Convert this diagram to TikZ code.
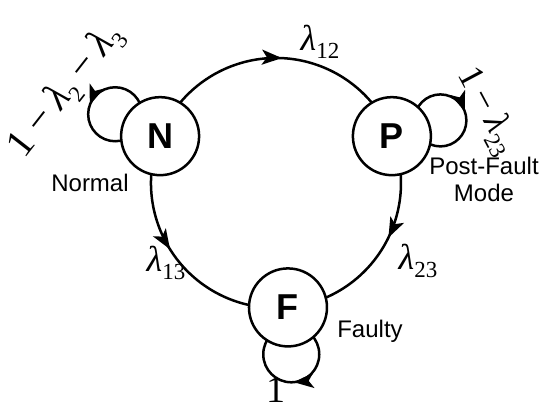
\documentclass[tikz,border=0pt]{standalone}
\usepackage{fontspec}
\setmainfont{Liberation Serif}
\setsansfont{Liberation Sans}
\usetikzlibrary{arrows.meta,decorations.markings,backgrounds}
\newcommand\gl{{\itshape λ}}
\newcommand\lsub[1]{\raisebox{-0.22em}{\fontsize{23}{23}\selectfont #1}}
\newcommand\mn{\hspace{0.22em}−\hspace{0.22em}}
\begin{document}
\begin{tikzpicture}[x=1pt,y=1pt,
  wire/.style={line width=2.5pt},
  state/.style={circle,draw,line width=2.5pt,fill=white,minimum size=78pt,inner sep=0pt,
    font=\sffamily\bfseries\fontsize{36}{36}\selectfont},
  lbl/.style={font=\sffamily\fontsize{24}{27}\selectfont,align=center,inner sep=0pt},
  gr/.style={font=\fontsize{36}{36}\selectfont,inner sep=0pt},
  marrow/.style={postaction=decorate,decoration={markings,
    mark=at position #1 with {\arrow{Stealth[length=20pt,width=15pt,inset=5pt]}}}}]
\useasboundingbox (0,0) rectangle (539,409);
\coordinate (O) at (276,226);
\path (O) ++(158:125) node[state] (N) {N};
\path (O) ++(22:125) node[state] (P) {P};
\path (O) ++(-84.5:125) node[state] (F) {F};
\begin{scope}[on background layer,wire]
  \draw[wire,marrow=0.52] (N.center) arc[start angle=158,end angle=22,radius=125];
  \draw[wire,marrow=0.45] (P.center) arc[start angle=22,end angle=-84.5,radius=125];
  \draw[wire,marrow=0.46] (N.center) arc[start angle=158,end angle=275.5,radius=125];
  \draw[wire,marrow=0.444] ([shift={(154:50)}]N.center) ++(0:27) arc[start angle=0,end angle=360,radius=27];
  \draw[wire,marrow=0.944] ([shift={(18:51)}]P.center) ++(0:26) arc[start angle=0,end angle=-360,radius=26];
  \draw[wire,marrow=0.236] ([shift={(-86:47)}]F.center) ++(0:28) arc[start angle=0,end angle=-360,radius=28];
\end{scope}
\node[gr] (l12) at (320,367) {\gl\lsub{12}};
\node[gr] (l13) at (166,146) {\gl\lsub{13}};
\node[gr] (l23) at (418,148) {\gl\lsub{23}};
\node[gr,font=\fontsize{38}{38}\selectfont] (l1) at (276,19) {1};
\node[gr,rotate=52,font=\fontsize{40}{40}\selectfont] (lN) at (66,318) {1\mn\gl\lsub{2}\mn\gl\lsub{3}};
\node[gr,rotate=-62] (lP) at (487,298) {1\mn\gl\lsub{23}};
\node[lbl] (tN) at (90,226) {Normal};
\node[lbl] (tP) at (484,230) {Post-Fault\\Mode};
\node[lbl] (tF) at (370,78) {Faulty};
\end{tikzpicture}
\end{document}
